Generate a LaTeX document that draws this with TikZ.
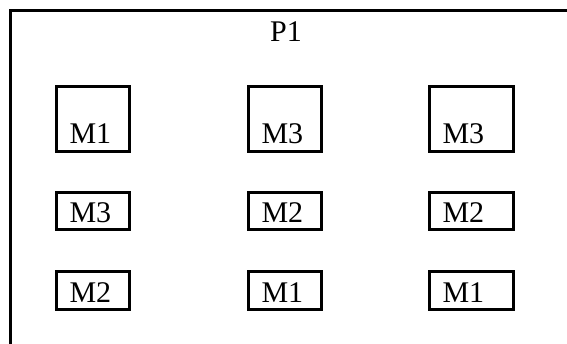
\documentclass[tikz,border=0pt]{standalone}
\usepackage{fontspec}
\setmainfont{Liberation Serif}
\usepackage{tikz}
\usetikzlibrary{positioning}

\tikzset{
    mbox/.style={draw, line width=3pt, outer sep=0pt, inner xsep=13pt, inner ysep=0pt,
        align=left, text width=47pt, font=\fontsize{30}{36}\selectfont},
    tallbox/.style={mbox, text height=57pt, text depth=7.5pt},
    flatbox/.style={mbox, text height=30.5pt, text depth=7pt},
    widebox/.style={text width=58pt}
}

\begin{document}
\begin{tikzpicture}[x=1pt, y=-1pt]
        \clip (0,0) rectangle (567,344);
        % frame of P1, only top and left edges are visible
        \draw[line width=3pt] (10,11) rectangle (620,400);
        \node[anchor=base, inner sep=0pt, font=\fontsize{30}{36}\selectfont] (p1) at (286,42) {P1};

        % first row
        \node[tallbox] (m11) at (93,119) {M1};
        \node[tallbox, right=119pt of m11] (m12) {M3};
        \node[tallbox, widebox, right=108pt of m12] (m13) {M3};

        % second row
        \node[flatbox, below=41pt of m11] (m21) {M3};
        \node[flatbox, right=119pt of m21] (m22) {M2};
        \node[flatbox, widebox, right=108pt of m22] (m23) {M2};

        % third row
        \node[flatbox, below=42pt of m21] (m31) {M2};
        \node[flatbox, right=119pt of m31] (m32) {M1};
        \node[flatbox, widebox, right=108pt of m32] (m33) {M1};
    \end{tikzpicture}
\end{document}
